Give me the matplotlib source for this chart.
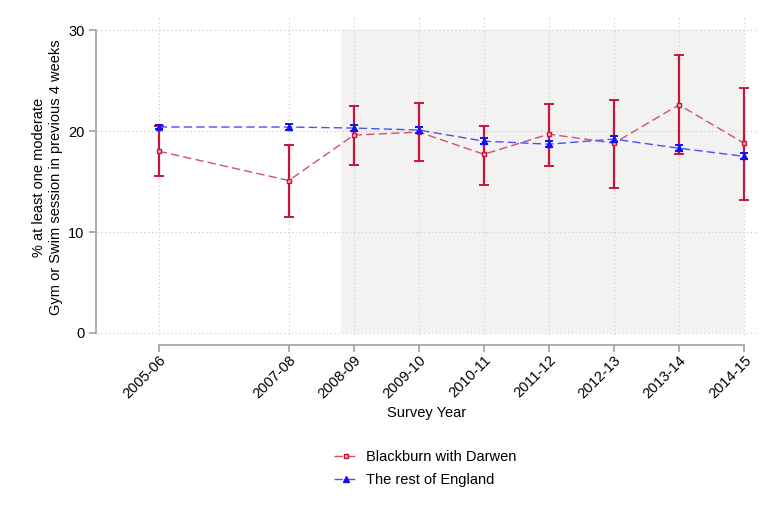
import matplotlib
matplotlib.use("Agg")
import matplotlib.pyplot as plt
import numpy as np

plt.rcParams['font.family'] = ['Liberation Sans', 'DejaVu Sans']

# survey years (start year of each survey) and labels
years = [2005, 2007, 2008, 2009, 2010, 2011, 2012, 2013, 2014]
year_labels = ["2005-06", "2007-08", "2008-09", "2009-10", "2010-11",
               "2011-12", "2012-13", "2013-14", "2014-15"]

# Blackburn with Darwen: estimate and 95% CI
bwd = [18.0, 15.1, 19.6, 19.9, 17.7, 19.7, 18.8, 22.6, 18.8]
bwd_lo = [15.5, 11.5, 16.6, 17.0, 14.7, 16.5, 14.4, 17.7, 13.2]
bwd_hi = [20.5, 18.6, 22.5, 22.8, 20.5, 22.7, 23.1, 27.5, 24.3]

# rest of England: estimate and 95% CI
eng = [20.4, 20.4, 20.3, 20.1, 19.0, 18.7, 19.2, 18.3, 17.5]
eng_lo = [20.2, 20.1, 20.0, 19.8, 18.7, 18.4, 18.9, 18.0, 17.2]
eng_hi = [20.6, 20.7, 20.6, 20.4, 19.3, 19.0, 19.5, 18.6, 17.8]

# shaded period
shade_start, shade_end = 2007.8, 2014.0

red = '#c8143c'
red_line = '#d0506e'
blue = '#1010f0'
blue_line = '#5050f0'

fig = plt.figure(figsize=(7.74, 5.16), dpi=100)
ax = fig.add_axes([97 / 774, 1 - 338 / 516, 660 / 774, 321 / 516])

ax.fill_between([shade_start, shade_end], 0, 30, color='#f2f2f2', lw=0, zorder=0)

x = np.array(years)
b = np.array(bwd)
e = np.array(eng)

ax.errorbar(x, b, yerr=[b - np.array(bwd_lo), np.array(bwd_hi) - b], fmt='none',
            ecolor=red, elinewidth=1.6, capsize=3.5, capthick=1.4, zorder=3)
ax.plot(x, b, color=red_line, ls=(0, (6, 3)), lw=1.0, marker='s', ms=3.5,
        mfc='#f0b0c0', mec=red, mew=1.0, zorder=4, label='Blackburn with Darwen')

ax.errorbar(x, e, yerr=[e - np.array(eng_lo), np.array(eng_hi) - e], fmt='none',
            ecolor=blue, elinewidth=1.4, capsize=3.2, capthick=1.4, zorder=5)
ax.plot(x, e, color=blue_line, ls=(0, (6, 3)), lw=1.0, marker='^', ms=4.5,
        mfc=blue, mec=blue, zorder=6, label='The rest of England')

ax.set_xlim(2004.05, 2014.2)
ax.set_ylim(-0.5, 31.3)
ax.set_xticks(years)
ax.set_xticklabels(year_labels)
ax.set_yticks([0, 10, 20, 30])
ax.set_yticklabels(['0', '10', '20', '30'])

ax.grid(True, color='#c8c8c8', ls=(0, (1, 2.5)), lw=0.8)
ax.set_axisbelow(True)

for s in ['top', 'right']:
    ax.spines[s].set_visible(False)
ax.spines['left'].set_bounds(0, 30)
ax.spines['left'].set_position(('outward', 1))
ax.spines['bottom'].set_bounds(2005, 2014)
ax.spines['bottom'].set_position(('outward', 5))
for s in ['left', 'bottom']:
    ax.spines[s].set_color('#a0a0a0')
    ax.spines[s].set_linewidth(1.2)
ax.tick_params(axis='both', color='#a0a0a0', width=1.2, length=5, pad=3, labelsize=10.5)
ax.tick_params(axis='x', pad=1)
for lbl in ax.get_xticklabels():
    lbl.set_rotation(45)
    lbl.set_ha('right')
    lbl.set_rotation_mode('anchor')
    lbl.set_fontsize(10.5)

ax.set_xlabel('Survey Year', fontsize=10.5, labelpad=3)
ax.set_ylabel('% at least one moderate\nGym or Swim session in previous 4 weeks',
              fontsize=10.5, labelpad=4)

fig.legend(loc='upper left', bbox_to_anchor=(321 / 774, 1 - 437 / 516), frameon=False,
           fontsize=10.5, handlelength=1.6, handletextpad=0.6, labelspacing=0.6)

fig.savefig('out.png', dpi=100)
